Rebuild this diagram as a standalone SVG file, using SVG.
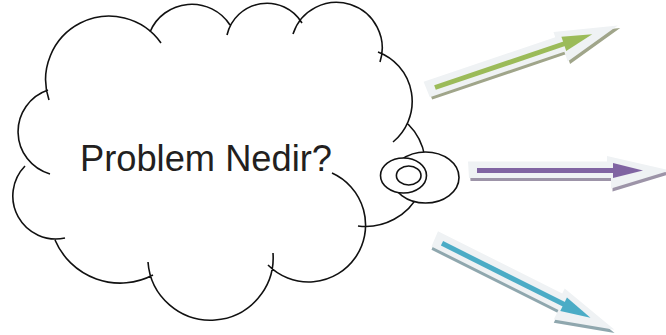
<svg xmlns="http://www.w3.org/2000/svg" width="666" height="335" viewBox="0 0 666 335">
<style>
.ln{fill:none;stroke:#111;stroke-width:1.6}
.bub{fill:#fff;stroke:#111;stroke-width:1.6}
.bg{fill:#eff2f4}
.lbl{font-family:"Liberation Sans",Arial,sans-serif;font-size:37px;fill:#231f20}
</style>
<defs>
<path id="blk" d="M-9,-9 L130,-9 L130,-14.5 L193,0 L134,18 L134,7.5 L-8,7.5 Z"/>
<path id="head" d="M136,-7.5 L166,0 L136,7.5 Z"/>
</defs>
<rect width="666" height="335" fill="#fff"/>
<g id="cloud">
<path class="ln" d="M49,100 A63.5,63.5 0 0 1 161,43
M150,32 A45,44 0 0 1 230,25
M227,35 A41,41 0 0 1 302,23
M293,34 A45.5,45.5 0 0 1 380,62
M378,52 A52.7,52.7 0 0 1 393,142
M408,124 A60,60 0 0 1 358,226
M332,173 A57,57 0 1 1 268,265
M273,253 A62.5,62.5 0 0 1 148,262
M153,275 A70.8,70.8 0 0 1 55,240
M65,238 A43,43 0 0 1 25,166
M50,174 A44,44 0 0 1 48,90"/>
<text class="lbl" x="80" y="170.5" textLength="252" lengthAdjust="spacingAndGlyphs">Problem Nedir?</text>
</g>
<g id="bubble">
<ellipse class="bub" cx="425.5" cy="177.5" rx="33.5" ry="25.5"/>
<ellipse class="bub" cx="403.5" cy="175.5" rx="23" ry="17.5"/>
<ellipse class="bub" cx="408.7" cy="175.5" rx="12.3" ry="9.5"/>
</g>
<g id="connectors">
<g id="arrow-green" transform="translate(435,87.5) rotate(-18.7)">
<use href="#blk" transform="translate(1.5,3)" fill="#a0a58a"/>
<use href="#blk" class="bg"/>
<rect x="0" y="-2.5" width="138" height="5" fill="#9bbb59"/>
<use href="#head" fill="#9bbb59"/>
</g>
<g id="arrow-purple" transform="translate(477,170.5)">
<use href="#blk" transform="translate(1.5,3)" fill="#9d94a8"/>
<use href="#blk" class="bg"/>
<rect x="0" y="-2.5" width="138" height="5" fill="#8064a2"/>
<use href="#head" fill="#8064a2"/>
</g>
<g id="arrow-blue" transform="translate(442,243.3) rotate(26.6)">
<use href="#blk" transform="translate(1.5,3)" fill="#8fa7ae"/>
<use href="#blk" class="bg"/>
<rect x="0" y="-2.5" width="138" height="5" fill="#4bacc6"/>
<use href="#head" fill="#4bacc6"/>
</g>
</g>
</svg>
